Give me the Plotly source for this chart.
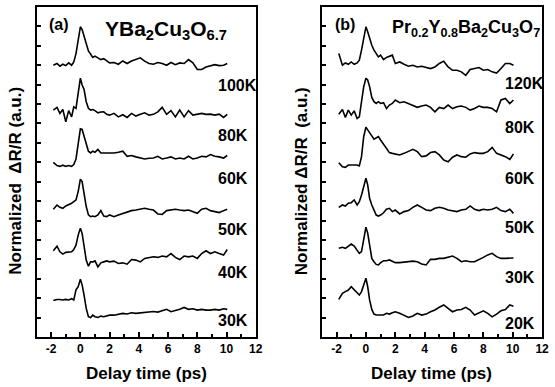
import plotly.graph_objects as go

# Delay time grid (ps)
time_ps = [-1.85, -1.6, -1.4, -1.2, -1.0, -0.8, -0.6, -0.45, -0.3, -0.15,
           0, 0.12, 0.25, 0.4, 0.55, 0.7, 0.85, 1.0, 1.2, 1.4,
           1.6, 1.8, 2.0, 2.3, 2.6, 2.9, 3.2, 3.5, 3.8, 4.1,
           4.4, 4.7, 5.0, 5.3, 5.6, 5.9, 6.2, 6.5, 6.8, 7.1,
           7.4, 7.7, 8.0, 8.3, 8.6, 8.9, 9.2, 9.5, 9.8, 10.05]

# Panel (a): YBa2Cu3O6.7
a_labels = ["100K", "80K", "60K", "50K", "40K", "30K"]
a_offsets = [14.0, 11.5, 8.88, 6.63, 4.39, 1.905]
a_label_y = [12.98, 10.4, 8.19, 5.56, 3.31, 0.84]
a_100K = [0, 0.09, -0.05, 0.05, -0.02, 0.12, 0, 0.17, 0.6, 1.29,
          1.98, 1.84, 1.55, 1.12, 0.74, 0.55, 0.4, 0.47, 0.38, 0.29,
          0.34, 0.22, 0.12, 0.14, 0.05, 0.22, 0.09, 0.22, 0.29, 0.38,
          0.21, 0.09, 0.05, 0.14, 0.09, 0, 0.14, 0.03, 0.12, 0.09,
          0.29, 0.12, -0.22, -0.22, -0.09, -0.03, 0.03, -0.02, 0, 0.09]
a_80K = [0.19, 0.33, 0.02, 0.22, -0.41, 0.16, -0.16, 0.36, 0.28, 0.97,
         1.83, 1.48, 1.26, 0.62, 0.28, 0.19, 0.22, 0.16, 0.05, 0.09,
         0.1, -0.03, -0.07, 0.02, -0.16, -0.05, -0.19, 0.02, -0.12, -0.02,
         0.05, -0.07, -0.03, 0.1, 0.33, -0.03, 0.16, -0.16, 0.19, -0.16,
         0.16, -0.07, -0.03, 0.02, -0.03, -0.02, -0.07, -0.02, -0.19, -0.03]
a_60K = [0.12, -0.05, -0.09, -0.03, -0.09, -0.05, -0.09, 0, 0.29, 1.12,
         1.84, 1.81, 1.47, 0.95, 0.69, 0.6, 0.69, 0.64, 0.78, 0.6,
         0.6, 0.6, 0.6, 0.6, 0.64, 0.69, 0.43, 0.47, 0.4, 0.34,
         0.29, 0.33, 0.34, 0.43, 0.29, 0.34, 0.4, 0.29, 0.34, 0.29,
         0.43, 0.29, 0.34, 0.43, 0.4, 0.52, 0.43, 0.4, 0.34, 0.47]
a_50K = [-0.05, 0.17, 0.05, 0, 0.12, 0.17, 0.26, 0.34, 0.43, 0.86,
         1.5, 1.38, 0.78, 0.09, -0.34, -0.43, -0.4, -0.43, -0.34, -0.12,
         -0.4, -0.43, -0.34, -0.43, -0.34, -0.26, -0.22, -0.12, -0.09, -0.05,
         0, -0.05, -0.09, -0.29, -0.31, -0.12, -0.09, -0.05, -0.09, -0.12,
         -0.09, -0.17, -0.26, -0.05, 0, -0.12, -0.17, -0.22, -0.12, -0.05]
a_40K = [0.05, 0.29, 0, -0.12, -0.03, -0.03, 0, 0.12, 0.34, 0.86,
         1.21, 0.95, 0.17, -0.43, -0.74, -0.52, -0.52, -0.47, -0.78, -0.57,
         -0.52, -0.47, -0.52, -0.48, -0.6, -0.57, -0.64, -0.4, -0.43, -0.52,
         -0.34, -0.31, -0.26, -0.29, -0.22, -0.26, -0.09, -0.29, -0.4, -0.22,
         -0.26, -0.22, -0.34, -0.09, 0.05, -0.09, 0, -0.09, -0.17, 0.12]
a_30K = [-0.03, 0.03, 0.03, 0, 0.03, 0, 0.07, 0, 0.52, 0.69,
         1.07, 0.78, 0.26, -0.43, -0.86, -0.9, -0.78, -0.86, -0.9, -0.83,
         -0.86, -0.83, -0.78, -0.78, -0.74, -0.69, -0.72, -0.66, -0.69, -0.66,
         -0.62, -0.6, -0.59, -0.62, -0.55, -0.48, -0.6, -0.55, -0.48, -0.38,
         -0.48, -0.45, -0.52, -0.48, -0.52, -0.52, -0.48, -0.52, -0.45, -0.48]

# Panel (b): Pr0.2Y0.8Ba2Cu3O7
b_labels = ["120K", "80K", "60K", "50K", "30K", "20K"]
b_offsets = [14.0, 11.43, 8.86, 6.68, 4.57, 2.25]
b_label_y = [13.08, 10.81, 8.19, 5.66, 3.09, 0.72]
b_120K = [0.6, 0, 0.12, 0.05, 0.17, 0.05, 0.12, 0.26, 0.78, 1.47,
          1.98, 1.72, 1.38, 1.03, 0.78, 0.6, 0.43, 0.52, 0.29, 0.4,
          0.47, 0.52, 0.09, 0.17, 0.05, -0.05, 0, -0.09, -0.05, -0.12,
          -0.17, -0.09, 0.09, 0.21, -0.09, -0.26, -0.26, -0.34, -0.52, -0.22,
          -0.17, -0.12, -0.26, -0.22, -0.34, -0.4, -0.17, 0.09, 0.09, 0]
b_80K = [0.05, 0.29, -0.12, 0.26, 0, 0.22, -0.17, -0.09, 0.69, 1.47,
         1.9, 1.81, 1.47, 0.91, 0.69, 0.6, 0.69, 0.6, 0.64, 0.34,
         0.52, 0.6, 0.78, 0.64, 0.69, 0.6, 0.52, 0.4, 0.47, 0.52,
         0.4, 0.17, 0.4, 0.34, 0.52, 0.34, 0.43, 0.47, 0.4, 0.26,
         0.34, 0.47, 0.4, 0.4, 0.34, 0.17, 0.78, 0.86, 0.6, 0.78]
b_60K = [0.12, -0.09, -0.12, 0, 0, 0, 0, -0.05, 0.43, 1.47,
         1.95, 1.81, 1.64, 1.5, 1.33, 1.38, 1.47, 1.29, 1.09, 0.86,
         0.64, 0.6, 0.57, 0.52, 0.6, 0.69, 0.81, 0.69, 0.43, 0.47,
         0.64, 0.69, 0.52, 0.26, 0.17, 0.4, 0.52, 0.43, 0.4, 0.57,
         0.64, 0.6, 0.6, 0.69, 0.91, 0.6, 0.52, 0.43, 0.29, 0.57]
b_50K = [0, 0.12, 0.07, 0.21, 0.24, 0.38, 0.12, 0.29, 0.64, 1.07,
         1.5, 1.16, 0.47, 0.12, -0.17, -0.4, -0.45, -0.4, -0.28, -0.1,
         -0.05, -0.22, -0.14, -0.34, -0.22, -0.17, 0, 0.12, 0, -0.14,
         -0.17, -0.05, 0, -0.05, -0.14, -0.17, -0.22, -0.14, -0.1, 0.07,
         -0.1, -0.17, -0.1, -0.14, -0.1, 0, -0.17, -0.22, -0.1, -0.31]
b_30K = [0, 0.05, 0, 0.12, 0.22, 0.12, -0.09, -0.26, -0.17, 0.52,
         1.09, 0.78, 0.09, -0.52, -0.69, -0.83, -0.86, -0.74, -0.64, -0.64,
         -0.6, -0.69, -0.74, -0.74, -0.72, -0.69, -0.66, -0.69, -0.81, -0.86,
         -0.57, -0.57, -0.52, -0.52, -0.47, -0.4, -0.52, -0.69, -0.64, -0.69,
         -0.69, -0.6, -0.47, -0.34, -0.26, -0.43, -0.52, -0.52, -0.52, -0.5]
b_20K = [-0.31, 0, 0.09, 0.17, 0.34, 0.17, 0, -0.09, 0.09, 0.43,
         0.78, 0.34, -0.34, -0.83, -1.07, -1.12, -1.12, -1.09, -1.12, -1.03,
         -1.07, -1.0, -0.95, -1.03, -1.12, -1.24, -1.17, -1.03, -1.12, -1.07,
         -0.95, -0.86, -0.72, -0.6, -0.78, -0.95, -0.86, -0.83, -0.72, -0.86,
         -1.12, -1.0, -0.9, -1.03, -1.21, -1.07, -0.9, -0.83, -0.6, -0.66]

x_ticks = [-2, 0, 2, 4, 6, 8, 10, 12]
y_ticks = list(range(1, 17))

FONT = "Liberation Sans, Arial, Helvetica, sans-serif"
W, H = 555, 387

fig = go.Figure()

a_series = [a_100K, a_80K, a_60K, a_50K, a_40K, a_30K]
b_series = [b_120K, b_80K, b_60K, b_50K, b_30K, b_20K]

for vals, off in zip(a_series, a_offsets):
    fig.add_trace(go.Scatter(x=time_ps, y=[v + off for v in vals], mode="lines",
                             line=dict(color="black", width=1.6),
                             xaxis="x", yaxis="y", showlegend=False, hoverinfo="skip"))
for vals, off in zip(b_series, b_offsets):
    fig.add_trace(go.Scatter(x=time_ps, y=[v + off for v in vals], mode="lines",
                             line=dict(color="black", width=1.6),
                             xaxis="x2", yaxis="y2", showlegend=False, hoverinfo="skip"))

def px_x(p):
    return p / W

def px_y(p):
    return 1 - p / H

xax = dict(range=[-3, 12], tickvals=x_ticks, ticktext=[str(v) for v in x_ticks],
           ticks="inside", ticklen=5, tickwidth=1.5, tickcolor="black",
           minor=dict(dtick=1, tick0=0, ticks="inside", ticklen=3, tickwidth=1.5, tickcolor="black"),
           showline=True, linewidth=2, linecolor="black", mirror=True,
           showgrid=False, zeroline=False,
           tickfont=dict(family=FONT, size=12, color="black", weight="bold"))
yax = dict(range=[0, 17], tickvals=y_ticks, showticklabels=False,
           ticks="inside", ticklen=4, tickwidth=1.5, tickcolor="black",
           showline=True, linewidth=2, linecolor="black", mirror=True,
           showgrid=False, zeroline=False,
           domain=[px_y(337), px_y(7)])

fig.update_layout(
    width=W, height=H,
    margin=dict(l=0, r=0, t=0, b=0),
    paper_bgcolor="white", plot_bgcolor="white",
    xaxis=dict(xax, domain=[px_x(37), px_x(259)], anchor="y"),
    yaxis=dict(yax, anchor="x"),
    xaxis2=dict(xax, domain=[px_x(326), px_x(549)], anchor="y2"),
    yaxis2=dict(yax, anchor="x2"),
)

annotations = []
for lab, yv in zip(a_labels, a_label_y):
    annotations.append(dict(x=9.3, y=yv, xref="x", yref="y", text="<b>%s</b>" % lab,
                            xanchor="left", yanchor="middle", showarrow=False,
                            font=dict(family=FONT, size=16, color="black")))
for lab, yv in zip(b_labels, b_label_y):
    annotations.append(dict(x=9.35, y=yv, xref="x2", yref="y2", text="<b>%s</b>" % lab,
                            xanchor="left", yanchor="middle", showarrow=False,
                            font=dict(family=FONT, size=16, color="black")))

annotations += [
    dict(x=px_x(48), y=px_y(24), xref="paper", yref="paper", text="<b>(a)</b>",
         xanchor="left", yanchor="middle", showarrow=False,
         font=dict(family=FONT, size=16, color="black")),
    dict(x=px_x(337), y=px_y(24), xref="paper", yref="paper", text="<b>(b)</b>",
         xanchor="left", yanchor="middle", showarrow=False,
         font=dict(family=FONT, size=16, color="black")),
    dict(x=px_x(104), y=px_y(15), xref="paper", yref="paper",
         text="<b>YBa<sub>2</sub>Cu<sub>3</sub>O<sub>6.7</sub></b>",
         xanchor="left", yanchor="top", showarrow=False,
         font=dict(family=FONT, size=21, color="black")),
    dict(x=px_x(395), y=px_y(15), xref="paper", yref="paper",
         text="<b>Pr<sub>0.2</sub>Y<sub>0.8</sub>Ba<sub>2</sub>Cu<sub>3</sub>O<sub>7</sub></b>",
         xanchor="left", yanchor="top", showarrow=False,
         font=dict(family=FONT, size=18, color="black")),
    dict(x=px_x(148), y=px_y(373), xref="paper", yref="paper", text="<b>Delay time (ps)</b>",
         xanchor="center", yanchor="middle", showarrow=False,
         font=dict(family=FONT, size=17, color="black")),
    dict(x=px_x(437), y=px_y(373), xref="paper", yref="paper", text="<b>Delay time (ps)</b>",
         xanchor="center", yanchor="middle", showarrow=False,
         font=dict(family=FONT, size=17, color="black")),
    dict(x=px_x(15), y=px_y(181), xref="paper", yref="paper",
         text="<b>Normalized  ΔR/R (a.u.)</b>", textangle=-90,
         xanchor="center", yanchor="middle", showarrow=False,
         font=dict(family=FONT, size=17, color="black")),
    dict(x=px_x(305), y=px_y(181), xref="paper", yref="paper",
         text="<b>Normalized ΔR/R  (a.u.)</b>", textangle=-90,
         xanchor="center", yanchor="middle", showarrow=False,
         font=dict(family=FONT, size=17, color="black")),
]
fig.update_layout(annotations=annotations)

fig.write_html("out.html", config={"displayModeBar": False},
               post_script="document.body.style.margin='0';document.body.style.padding='0';document.body.style.overflow='hidden';")
